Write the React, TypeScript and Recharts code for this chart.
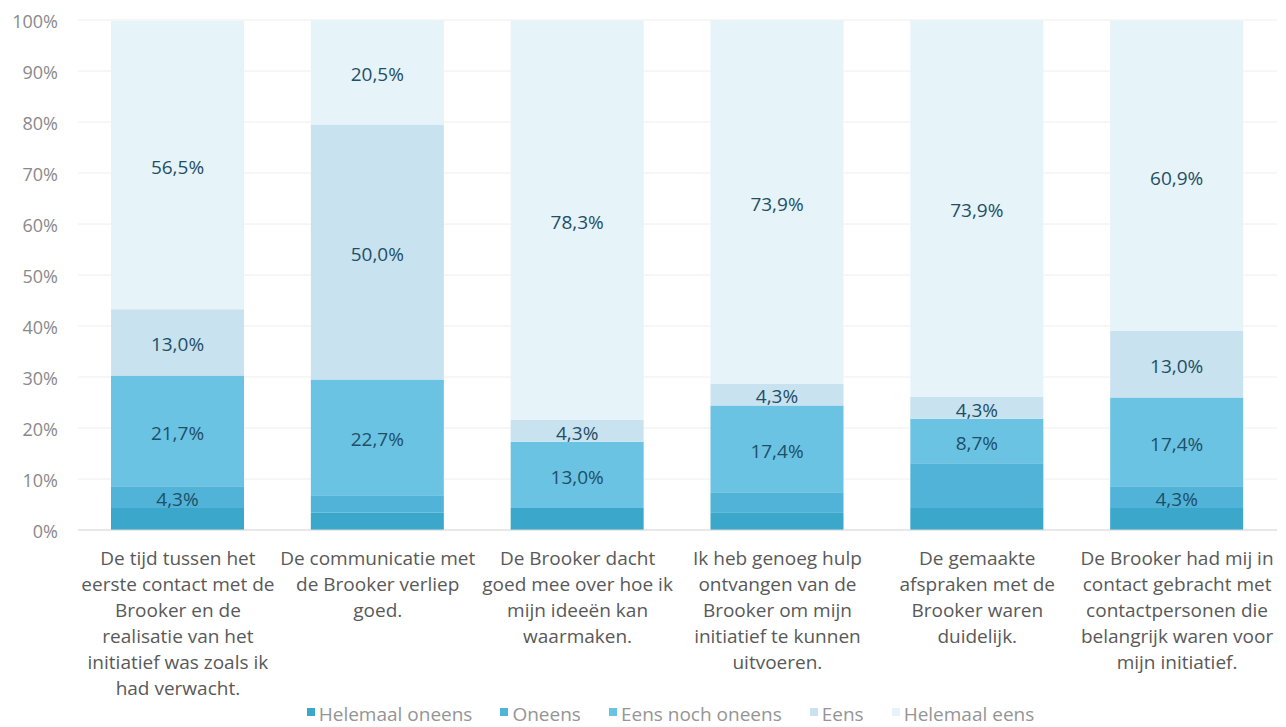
import { BarChart, Bar, XAxis, YAxis, CartesianGrid, Legend, LabelList } from 'recharts';

const CATEGORIES = [
  'De tijd tussen het\neerste contact met de\nBrooker en de\nrealisatie van het\ninitiatief was zoals ik\nhad verwacht.',
  'De communicatie met\nde Brooker verliep\ngoed.',
  'De Brooker dacht\ngoed mee over hoe ik\nmijn ideeën kan\nwaarmaken.',
  'Ik heb genoeg hulp\nontvangen van de\nBrooker om mijn\ninitiatief te kunnen\nuitvoeren.',
  'De gemaakte\nafspraken met de\nBrooker waren\nduidelijk.',
  'De Brooker had mij in\ncontact gebracht met\ncontactpersonen die\nbelangrijk waren voor\nmijn initiatief.',
];

// waarden per segment (percentages, van onder naar boven)
const HELEMAAL_ONEENS = [4.3, 3.4, 4.3, 3.5, 4.3, 4.3];
const ONEENS = [4.3, 3.4, 0, 3.9, 8.8, 4.3];
const EENS_NOCH_ONEENS = [21.7, 22.7, 13.0, 17.0, 8.7, 17.4];
const EENS = [13.0, 50.0, 4.3, 4.3, 4.3, 13.0];
const HELEMAAL_EENS = [56.5, 20.5, 78.3, 71.3, 73.9, 60.9];

// labels zoals ze in de grafiek staan
const ONEENS_LABELS = ['4,3%', '', '', '', '', '4,3%'];
const EENS_NOCH_ONEENS_LABELS = ['21,7%', '22,7%', '13,0%', '17,4%', '8,7%', '17,4%'];
const EENS_LABELS = ['13,0%', '50,0%', '4,3%', '4,3%', '4,3%', '13,0%'];
const HELEMAAL_EENS_LABELS = ['56,5%', '20,5%', '78,3%', '73,9%', '73,9%', '60,9%'];

const Y_TICKS = [0, 10, 20, 30, 40, 50, 60, 70, 80, 90, 100];

const SERIES = [
  { key: 'helemaalOneens', name: 'Helemaal oneens', color: '#3ba7ca' },
  { key: 'oneens', name: 'Oneens', color: '#50b3d7' },
  { key: 'eensNoch', name: 'Eens noch oneens', color: '#6ac3e3' },
  { key: 'eens', name: 'Eens', color: '#c8e2ef' },
  { key: 'helemaalEens', name: 'Helemaal eens', color: '#e6f3f9' },
];

const FONT = '"Open Sans", sans-serif';

const data = CATEGORIES.map((name, i) => ({
  name,
  helemaalOneens: HELEMAAL_ONEENS[i],
  oneens: ONEENS[i],
  eensNoch: EENS_NOCH_ONEENS[i],
  eens: EENS[i],
  helemaalEens: HELEMAAL_EENS[i],
  oneensLabel: ONEENS_LABELS[i],
  eensNochLabel: EENS_NOCH_ONEENS_LABELS[i],
  eensLabel: EENS_LABELS[i],
  helemaalEensLabel: HELEMAAL_EENS_LABELS[i],
}));

const LABEL_STYLE = { fill: '#1f4f66', fontSize: 19, fontFamily: FONT };

const CategoryTick = ({ x, y, payload }: { x?: number; y?: number; payload?: { value: string } }) => {
  const lines = String(payload?.value ?? '').split('\n');
  return (
    <text x={x} y={y} textAnchor="middle" fill="#595959" fontSize={19} fontFamily={FONT}>
      {lines.map((l, i) => (
        <tspan key={i} x={x} dy={i === 0 ? 35 : 26}>
          {l}
        </tspan>
      ))}
    </text>
  );
};

const renderLegend = () => (
  <div
    style={{
      display: 'flex',
      justifyContent: 'center',
      gap: 28,
      paddingLeft: 64,
      paddingTop: 4,
      fontFamily: FONT,
      fontSize: 19,
      color: '#959595',
    }}
  >
    {SERIES.map(s => (
      <div key={s.key} style={{ display: 'flex', alignItems: 'flex-start', gap: 4 }}>
        <span style={{ width: 8, height: 8, background: s.color, marginTop: 7 }} />
        <span>{s.name}</span>
      </div>
    ))}
  </div>
);

export default function App() {
  return (
    <div style={{ position: 'absolute', left: 0, top: 0, background: '#fff' }}>
      <BarChart width={1286} height={727} data={data} margin={{ top: 20, right: 9, left: 0, bottom: 0 }}>
        <CartesianGrid horizontal vertical={false} stroke="#eeeeee" />
        <XAxis
          dataKey="name"
          tickLine={false}
          axisLine={{ stroke: '#d9d9d9' }}
          tickSize={0}
          tickMargin={0}
          height={167}
          interval={0}
          tick={<CategoryTick />}
        />
        <YAxis
          domain={[0, 100]}
          ticks={Y_TICKS}
          tickFormatter={v => `${v}%`}
          axisLine={false}
          tickLine={false}
          tickSize={0}
          tickMargin={20}
          width={78}
          tick={{ fill: '#8a8a8a', fontSize: 18, fontFamily: FONT, dy: 2 }}
        />
        <Legend verticalAlign="bottom" height={30} content={renderLegend} />
        {SERIES.map(s => (
          <Bar key={s.key} dataKey={s.key} name={s.name} stackId="a" fill={s.color} barSize={133} isAnimationActive={false}>
            {s.key === 'oneens' && <LabelList dataKey="oneensLabel" position="center" dy={2} style={LABEL_STYLE} />}
            {s.key === 'eensNoch' && <LabelList dataKey="eensNochLabel" position="center" dy={2} style={LABEL_STYLE} />}
            {s.key === 'eens' && <LabelList dataKey="eensLabel" position="center" dy={2} style={LABEL_STYLE} />}
            {s.key === 'helemaalEens' && <LabelList dataKey="helemaalEensLabel" position="center" dy={2} style={LABEL_STYLE} />}
          </Bar>
        ))}
      </BarChart>
    </div>
  );
}
